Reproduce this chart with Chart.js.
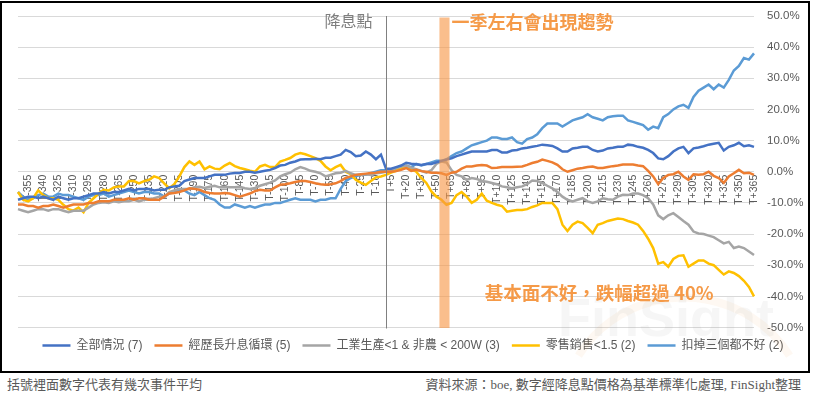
<!DOCTYPE html>
<html>
<head>
<meta charset="utf-8">
<script src="https://cdn.jsdelivr.net/npm/chart.js@4.4.1/dist/chart.umd.min.js"></script>
<style>
  body { margin: 0; background: #fff; width: 813px; height: 395px; overflow: hidden; position: relative; font-family: "Noto Sans CJK TC", sans-serif; }
  #frame { position: absolute; left: 0; top: 1px; width: 806px; height: 368px; border: 2px solid #000; }
  #frame canvas { display: block; }
  .note { position: absolute; top: 374px; font-size: 13px; color: #595959; white-space: nowrap; }
  #noteLeft { left: 7px; }
  #noteRight { right: 12px; font-family: "Liberation Serif", "Noto Sans CJK TC", serif; }
</style>
</head>
<body>
<div id="frame"><canvas id="chart" width="806" height="368"></canvas></div>
<div class="note" id="noteLeft">括號裡面數字代表有幾次事件平均</div>
<div class="note" id="noteRight">資料來源：boe, 數字經降息點價格為基準標準化處理, FinSight整理</div>

<script>
// days around the rate cut, sampled every 5 days (T-365 ... T+365)
const days = [];
for (let d = -365; d <= 365; d += 5) days.push(d);
const categories = days.map(d => (d < 0 ? 'T' + d : 'T+' + d));

// only every 15th day gets a label, like the original
const shownTicks = categories.filter((c, i) => (days[i] + 355) % 15 === 0);

const seriesNames = ['全部情況 (7)', '經歷長升息循環 (5)', '工業生產<1 & 非農 < 200W (3)', '零售銷售<1.5 (2)', '扣掉三個都不好 (2)'];
const seriesColors = ['#4472C4', '#ED7D31', '#A5A5A5', '#FFC000', '#5B9BD5'];

// % change vs the price on the cut day
const allCases = [
  -9, -8.5, -8, -8, -8.5, -8, -8.5, -9, -8, -8.5,
  -9, -8.5, -8.5, -8, -7.5, -7, -7, -6.5, -7, -6.5,
  -6.5, -6, -5.5, -6, -5.5, -5.5, -5.5, -6,
  -5.8, -5.8, -5, -4.7, -4.5, -3, -2.5, -2, -2, -2,
  -1.5, -1, -1, -1, -0.6, -0.4, -0.4, 0, 0, -0.3,
  0, 0.3, 0.6, 1.2, 2, 2.2, 2.9, 3.3, 3.9, 4,
  4, 4.2, 4, 4.5, 4.5, 5, 5.5, 7, 6.3, 5,
  5.2, 6.5, 5.5, 4, 5.5, 1, 1, 1.5, 2, 2.9,
  2.6, 2.4, 2.2, 2.5, 2.5, 3, 3.5, 3.9, 4.3, 5,
  5.5, 6, 6.5, 6.5, 6.5, 6.5, 7, 7, 6.2, 6.2,
  6.8, 7, 7.5, 7.7, 8, 8.3, 8.7, 8.5, 8.3, 7.5,
  6.5, 6.5, 7.5, 7.7, 8, 8, 7, 6.5, 6.8, 7.5,
  7.7, 8, 8, 8.7, 8.5, 8, 7.7, 7, 6, 4.3,
  4, 5, 6.5, 7.5, 8, 6, 7.5, 7.8, 8.2, 8.7,
  9, 9.3, 6.8, 8, 8.5, 9.3, 8.2, 8.5, 8
];

const longHike = [
  -10.5, -10.5, -11, -11, -11.5, -11, -11, -10.5, -11, -11.5,
  -11, -10.5, -10.5, -10.5, -10, -10, -9.5, -9.5, -9.5, -9,
  -9, -9, -8.5, -9, -8.5, -8.5, -9, -9,
  -9, -8, -7, -6.8, -6.5, -6, -5.3, -5.5, -5.8, -6.5,
  -6.8, -7, -7, -6.8, -7, -7.5, -8, -7.5, -7, -6.2,
  -5.8, -6, -6, -5, -4.2, -4, -3.7, -3.3, -3, -3,
  -3.3, -3.7, -4, -4.2, -4, -3.7, -3, -2, -1.5, -1,
  -0.8, -0.6, -0.4, -0.3, 0, 0, 0, 0.2, 0.6, 1.2,
  0.3, 0.6, 0.2, 0, -0.3, -0.3, -0.5, -1, -0.3, 0,
  1, 1.7, 1.7, 2, 2.2, 2, 1.2, 1.3, 1.5, 1.5,
  1.5, 1.6, 1.7, 2.2, 2.8, 3.2, 3.9, 3.5, 3, 2.2,
  0.8, 0, 0.5, 1, 1.2, 1.5, 1.7, 1.2, 1.2, 1.5,
  1.8, 2, 2.3, 2.3, 2.3, 2, 1.8, 0.3, -1.5, -4,
  -2, -1, -0.8, 0, -1.5, -2.6, -0.8, -1, -0.8, 0,
  -1.3, -2, -3.6, -1.5, -0.5, 0.6, -0.5, -0.3, -1
];

const weakIndustry = [
  -12, -12.5, -13, -12.5, -12, -12, -12.5, -12, -12, -12.5,
  -13, -12.5, -12.5, -12.5, -11.5, -10.5, -10, -9.8, -10, -9.5,
  -9.8, -9.5, -9.5, -9, -9.5, -9, -9, -8.5,
  -8, -8, -6.5, -6, -5.5, -5.5, -5.5, -5, -4.8, -5.2,
  -4.8, -4.5, -5, -4.8, -5, -5, -4.8, -5.3, -5.5, -5.2,
  -4.5, -4, -3.5, -2.8, -1.5, -0.8, -0.3, 0.8, 1.5, 1,
  0.3, 0, -0.5, -1.5, -1, -0.5, -0.3, 0.3, -0.5, -1,
  -1, -0.8, -1, -0.5, -0.3, 0, 0.5, 1.2, 1.7, 2,
  1.3, 0.8, 0.3, -0.3, 0.5, 2.5, 3.3, 3, 0.5, -1,
  -1.5, -2.6, -2, -2.3, -3, -3.2, -3.6, -4, -4.7, -5,
  -5.3, -5, -4.7, -4, -2.8, -3, -3.6, -4.5, -5.3, -6.5,
  -8, -9, -9.5, -9, -8.5, -9.5, -10, -9.5, -8.5, -8.8,
  -9, -8, -7.4, -7.5, -7, -7, -7.5, -8.5, -10.5, -14,
  -15.2, -14, -13.3, -14.5, -15.8, -17, -19.2, -19.8, -20, -20.5,
  -21, -22, -23, -22.5, -24.5, -24, -24.5, -25.6, -26.7
];

const weakRetail = [
  -6.5, -9, -9.5, -8.5, -6, -7.5, -8.5, -8.5, -9, -10.6,
  -12, -12.5, -11.5, -13, -10, -8.5, -7, -5.8, -6, -5,
  -4.7, -4.7, -3, -3, -3.7, -3, -2.6, -1.5,
  -2, -3.7, -5.3, -4, -1.5, 1.5, 3.3, 2.2, 3.3, 0.8,
  1.7, 1, 0.8, 2, 2.8, 1.8, 1.2, 0.8, 0.3, 0,
  1.7, 2.2, 1.5, 1.5, 3.3, 3.8, 4.4, 5.5, 6, 5.6,
  5, 4.4, 3.5, 1.7, 0.5, 1.5, 2.2, 0, -0.8, -2.6,
  -3.5, -4.2, -3, -1.8, -1.5, -1, -0.3, 0.3, 1.2, 1.7,
  0.8, 0, -2, -3.6, -6.3, -8, -9, -10.6, -10, -7.5,
  -6.5, -8, -10, -9, -7, -9.3, -10, -10.6, -11, -12.8,
  -12.5, -12.3, -12.3, -12, -11.3, -10.8, -10, -10, -10, -12,
  -17, -19, -17, -16, -16.5, -18, -19.7, -17, -16.5, -15.8,
  -15.4, -15, -15.2, -15.8, -16.3, -17, -19, -21.5, -24.5, -29.5,
  -29, -30.5, -28, -27, -26.8, -30.5, -29.5, -28.5, -28.5, -29.5,
  -30, -31.5, -33, -32, -32.5, -33.5, -35, -37, -40
];

const noneWeak = [
  -6.5, -8, -9, -8.5, -7.5, -7, -8, -8, -7, -7.5,
  -7.5, -8, -8.5, -9, -8, -7.5, -7.5, -7, -8, -7.5,
  -7, -6.5, -6, -6.5, -7, -6.5, -6.5, -7,
  -7, -8, -7, -6.5, -6, -6, -7, -7.5, -6.5, -7.5,
  -8.5, -9, -10.5, -11.5, -11.5, -10.5, -11, -11.5, -11, -11.5,
  -11, -10.5, -10.5, -10, -10, -9.5, -9, -8.5, -9, -9,
  -9, -9.5, -9, -9, -8.5, -8.5, -5.5, -3, -2, -1.5,
  -1, -1, -0.5, 0, 0.5, 0.5, 0.5, 1, 1.5, 2,
  1.5, 2.5, 2, 2.5, 3, 3.5, 3.5, 4, 5, 6,
  6.5, 7.5, 8.5, 9, 9.5, 10, 11, 11, 10.5, 10.5,
  11, 9.5, 9, 10.5, 11, 12, 14, 15.5, 15.5, 15.5,
  14.5, 15.5, 16.5, 17, 17.5, 18.5, 17.5, 17, 16.5, 17.5,
  17.8, 18, 18, 16.5, 16, 15.5, 15, 13.5, 14.5, 14,
  17.5, 18.5, 20, 21, 21.5, 20.5, 24, 26, 27, 28,
  26.5, 28, 27, 29.5, 32.5, 34, 36.5, 36, 38
];

const seriesValues = [allCases, longHike, weakIndustry, weakRetail, noneWeak];

// rate cut day and the "about one quarter later" band (in days)
const cutDay = 0;
const bandFrom = 53;
const bandTo = 63;

const yTicks = [-50, -40, -30, -20, -10, 0, 10, 20, 30, 40, 50];

const orange = '#F59A48';
const cjk = '"Noto Sans CJK TC", sans-serif';
const dayIndex = d => days.indexOf(0) + d / 5;

// Band, cut line and notes on top of the plot
const markers = {
  id: 'markers',
  beforeDatasetsDraw(chart) {
    const {ctx, chartArea} = chart;
    ctx.save();
    ctx.strokeStyle = 'rgba(245,154,72,0.07)';
    ctx.lineWidth = 8;
    ctx.beginPath();
    ctx.arc(chartArea.right - 70, chartArea.bottom + 95, 125, Math.PI * 1.18, Math.PI * 1.82);
    ctx.stroke();
    ctx.fillStyle = 'rgba(150,150,150,0.09)';
    ctx.font = 'bold 54px "Liberation Sans", sans-serif';
    ctx.textAlign = 'right';
    ctx.textBaseline = 'alphabetic';
    ctx.fillText('FinSight', chartArea.right + 20, chartArea.bottom + 8);
    ctx.restore();
  },
  afterDatasetsDraw(chart) {
    const {ctx, chartArea, scales: {x, y}} = chart;
    ctx.save();

    const b0 = x.getPixelForValue(dayIndex(bandFrom));
    const b1 = x.getPixelForValue(dayIndex(bandTo));
    ctx.fillStyle = 'rgba(247,150,70,0.62)';
    ctx.fillRect(b0, chartArea.top + 1.5, b1 - b0, chartArea.bottom - chartArea.top - 1);

    const cx = Math.round(x.getPixelForValue(dayIndex(cutDay))) + 0.5;
    ctx.strokeStyle = '#808080';
    ctx.lineWidth = 1;
    ctx.beginPath();
    ctx.moveTo(cx, chartArea.top);
    ctx.lineTo(cx, chartArea.bottom + 1);
    ctx.stroke();

    ctx.textBaseline = 'middle';
    ctx.font = '16px ' + cjk;
    ctx.fillStyle = '#7F7F7F';
    ctx.textAlign = 'right';
    ctx.fillText('降息點', cx - 14, chartArea.top + 5);

    ctx.font = 'bold 18px ' + cjk;
    ctx.fillStyle = orange;
    ctx.textAlign = 'left';
    ctx.fillText('一季左右會出現趨勢', b1 + 2, chartArea.top + 6);

    ctx.font = 'bold 18.5px ' + cjk;
    ctx.textAlign = 'right';
    ctx.fillText('基本面不好，跌幅超過 40%', x.getPixelForValue(dayIndex(325)), y.getPixelForValue(-39));
    ctx.restore();
  }
};

const ctx = document.getElementById('chart');

new Chart(ctx, {
  type: 'line',
  data: {
    labels: categories,
    datasets: seriesNames.map((name, i) => ({
      label: name,
      data: seriesValues[i],
      borderColor: seriesColors[i],
      backgroundColor: seriesColors[i],
      borderWidth: 2.5,
      pointRadius: 0,
      tension: 0
    }))
  },
  options: {
    responsive: false,
    animation: false,
    devicePixelRatio: 1,
    layout: { padding: { left: 16, top: 13, right: 0, bottom: 9.5 } },
    plugins: {
      tooltip: { enabled: false },
      legend: {
        position: 'bottom',
        labels: {
          usePointStyle: true,
          pointStyle: 'line',
          pointStyleWidth: 28,
          padding: 12,
          color: '#595959',
          font: { size: 12, family: '"Liberation Sans", "Noto Sans CJK TC", sans-serif' }
        }
      }
    },
    scales: {
      x: {
        type: 'category',
        position: { y: 0 },
        grid: { display: false, drawTicks: false },
        border: { display: false },
        ticks: {
          autoSkip: false,
          maxRotation: 90,
          minRotation: 90,
          padding: 3,
          color: '#595959',
          font: { size: 10.5, family: '"Liberation Sans", sans-serif' },
          callback: function (value) {
            const label = this.getLabelForValue(value);
            return shownTicks.includes(label) ? label : '';
          }
        }
      },
      y: {
        position: 'right',
        min: -50,
        max: 50,
        afterBuildTicks: scale => { scale.ticks = yTicks.map(v => ({ value: v })); },
        afterFit: scale => { scale.width = 54; },
        grid: { color: '#D9D9D9', lineWidth: 1, drawTicks: true, tickLength: 11, tickColor: 'rgba(0,0,0,0)' },
        border: { display: false },
        ticks: {
          padding: 2,
          color: '#595959',
          font: { size: 11.5, family: '"Liberation Sans", sans-serif' },
          callback: v => v.toFixed(1) + '%'
        }
      }
    }
  },
  plugins: [markers]
});
</script>
</body>
</html>
